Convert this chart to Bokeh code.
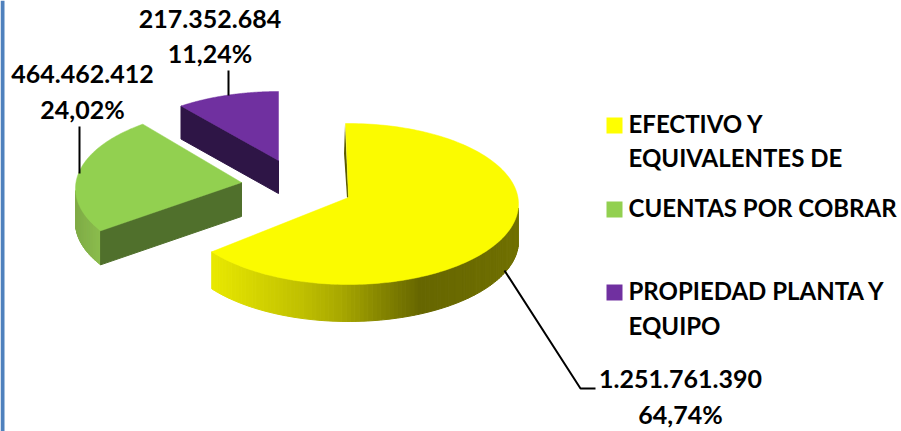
import math
from bokeh.plotting import figure
from bokeh.models import Range1d
from bokeh.core.properties import value
from bokeh.embed import file_html
from bokeh.resources import INLINE

# ---- data ----
categories = ["EFECTIVO Y EQUIVALENTES DE", "CUENTAS POR COBRAR", "PROPIEDAD PLANTA Y EQUIPO"]
amounts = [1251761390, 464462412, 217352684]
amount_labels = ["1.251.761.390", "464.462.412", "217.352.684"]
percent_labels = ["64,74%", "24,02%", "11,24%"]
legend_lines = [["EFECTIVO Y", "EQUIVALENTES DE"], ["CUENTAS POR COBRAR"], ["PROPIEDAD PLANTA Y", "EQUIPO"]]

# ---- styles / layout ----
W, H = 901, 431
FONT = value("Lato")
FS = "25px"
LEG_FS = "24px"
TEXT_SHIFT = -10  # the svg text lands this much below the requested baseline
top_cols = ["#FBFB00", "#92D050", "#7030A0"]
cut_cols = [None, "#50702C", "#2E1546"]
# apex, ellipse centre, radii, depth, angle corrections for the perspective
geom = [
    dict(apex=(348, 197), c=(348, 203.5), a=170, b=80.5, d=37, t0=-1, t1=0.5),
    dict(apex=(241, 182), c=(241, 188), a=166, b=80, d=34, t0=5, t1=4),
    dict(apex=(278, 160), c=(278, 167), a=166, b=76, d=33, t0=4.5, t1=0),
]
yellow_stops = [(212, (232, 232, 0)), (300, (192, 192, 0)), (340, (168, 168, 0)),
                (380, (133, 133, 0)), (420, (102, 102, 0)), (518, (112, 112, 0))]
green_stops = [(75, (128, 172, 72)), (101, (140, 190, 78))]


def grad(stops, x):
    if x <= stops[0][0]:
        return "#%02x%02x%02x" % stops[0][1]
    for (x0, c0), (x1, c1) in zip(stops, stops[1:]):
        if x <= x1:
            f = (x - x0) / (x1 - x0)
            return "#%02x%02x%02x" % tuple(round(u + (v - u) * f) for u, v in zip(c0, c1))
    return "#%02x%02x%02x" % stops[-1][1]


def arc(g, a0, a1, n):
    xs, ys = [], []
    for i in range(n + 1):
        t = math.radians(a0 + (a1 - a0) * i / n)
        xs.append(g["c"][0] + g["a"] * math.sin(t))
        ys.append(g["c"][1] - g["b"] * math.cos(t))
    return xs, ys


p = figure(width=W, height=H, x_range=Range1d(0, W), y_range=Range1d(H, 0),
           toolbar_location=None, output_backend="svg", min_border=0,
           outline_line_color=None, background_fill_color="white")
p.xaxis.visible = False
p.yaxis.visible = False
p.grid.visible = False
p.styles = {"position": "absolute", "left": "0px", "top": "0px"}

# left stripe
p.quad(left=[0], right=[4], bottom=[H], top=[0], fill_color="#4F81BD", line_color=None)

total = sum(amounts)
bounds = [0]
for v in amounts:
    bounds.append(bounds[-1] + 360 * v / total)

# draw back to front
for i in (2, 1, 0):
    g = geom[i]
    a0, a1 = bounds[i] + g["t0"], bounds[i + 1] + g["t1"]
    d = g["d"]
    ax, ay = g["apex"]
    xs, ys = arc(g, a0, a1, 160)
    # outer wall, as strips; only the front half of the rim shows a wall
    if i < 2:
        stops = yellow_stops if i == 0 else green_stops
        sx, sy, sc = [], [], []
        for k in range(len(xs) - 1):
            if ys[k] < g["c"][1] + 2 or ys[k + 1] < g["c"][1] + 2:
                continue
            sx.append([xs[k], xs[k + 1], xs[k + 1], xs[k]])
            sy.append([ys[k], ys[k + 1], ys[k + 1] + d, ys[k] + d])
            sc.append(grad(stops, (xs[k] + xs[k + 1]) / 2))
        p.patches(sx, sy, fill_color=sc, line_color=sc, line_width=1)
    # cut face
    if i in (1, 2):
        p.patch([xs[0], ax, ax, xs[0]], [ys[0], ay, ay + d, ys[0] + d],
                fill_color=cut_cols[i], line_color=cut_cols[i])
    else:
        # thin visible sliver of the inner wall
        p.patch([xs[0] - 0.5, xs[0] - 1.5, ax - 1.5, ax], [ys[0], ys[0] + 30, ay, ay],
                fill_color="#5A5A00", line_color=None)
    p.patch([ax] + xs, [ay] + ys, fill_color=top_cols[i], line_color=top_cols[i], line_width=0.5)

# leader lines
p.line([504, 580, 595], [270, 388, 388], line_color="black", line_width=2)
p.line([79, 79], [126, 173], line_color="black", line_width=2)
p.line([228, 228], [70, 95], line_color="black", line_width=2)

# data labels
label_x = [680, 82, 209.5]
label_y1 = [388, 83, 28]
label_y2 = [423, 118, 62]
for i in range(3):
    for txt, y in ((amount_labels[i], label_y1[i]), (percent_labels[i], label_y2[i])):
        p.text([label_x[i]], [y + TEXT_SHIFT], text=[txt], text_font=FONT, text_font_style="bold",
               text_font_size=FS, text_align="center", text_baseline="alphabetic", text_color="black")

# legend
swatch_bottom = [133, 217, 300]
legend_base = [[133, 167], [217], [300, 335]]
for i in range(3):
    p.quad(left=[606], right=[622], top=[swatch_bottom[i] - 16], bottom=[swatch_bottom[i]],
           fill_color=top_cols[i] if i else "#FFFF00", line_color=None)
    for line, base in zip(legend_lines[i], legend_base[i]):
        p.text([628], [base + TEXT_SHIFT], text=[line], text_font=FONT, text_font_style="bold", text_font_size=LEG_FS,
               text_align="left", text_baseline="alphabetic", text_color="black")

open("out.html", "w").write(file_html(p, INLINE))
